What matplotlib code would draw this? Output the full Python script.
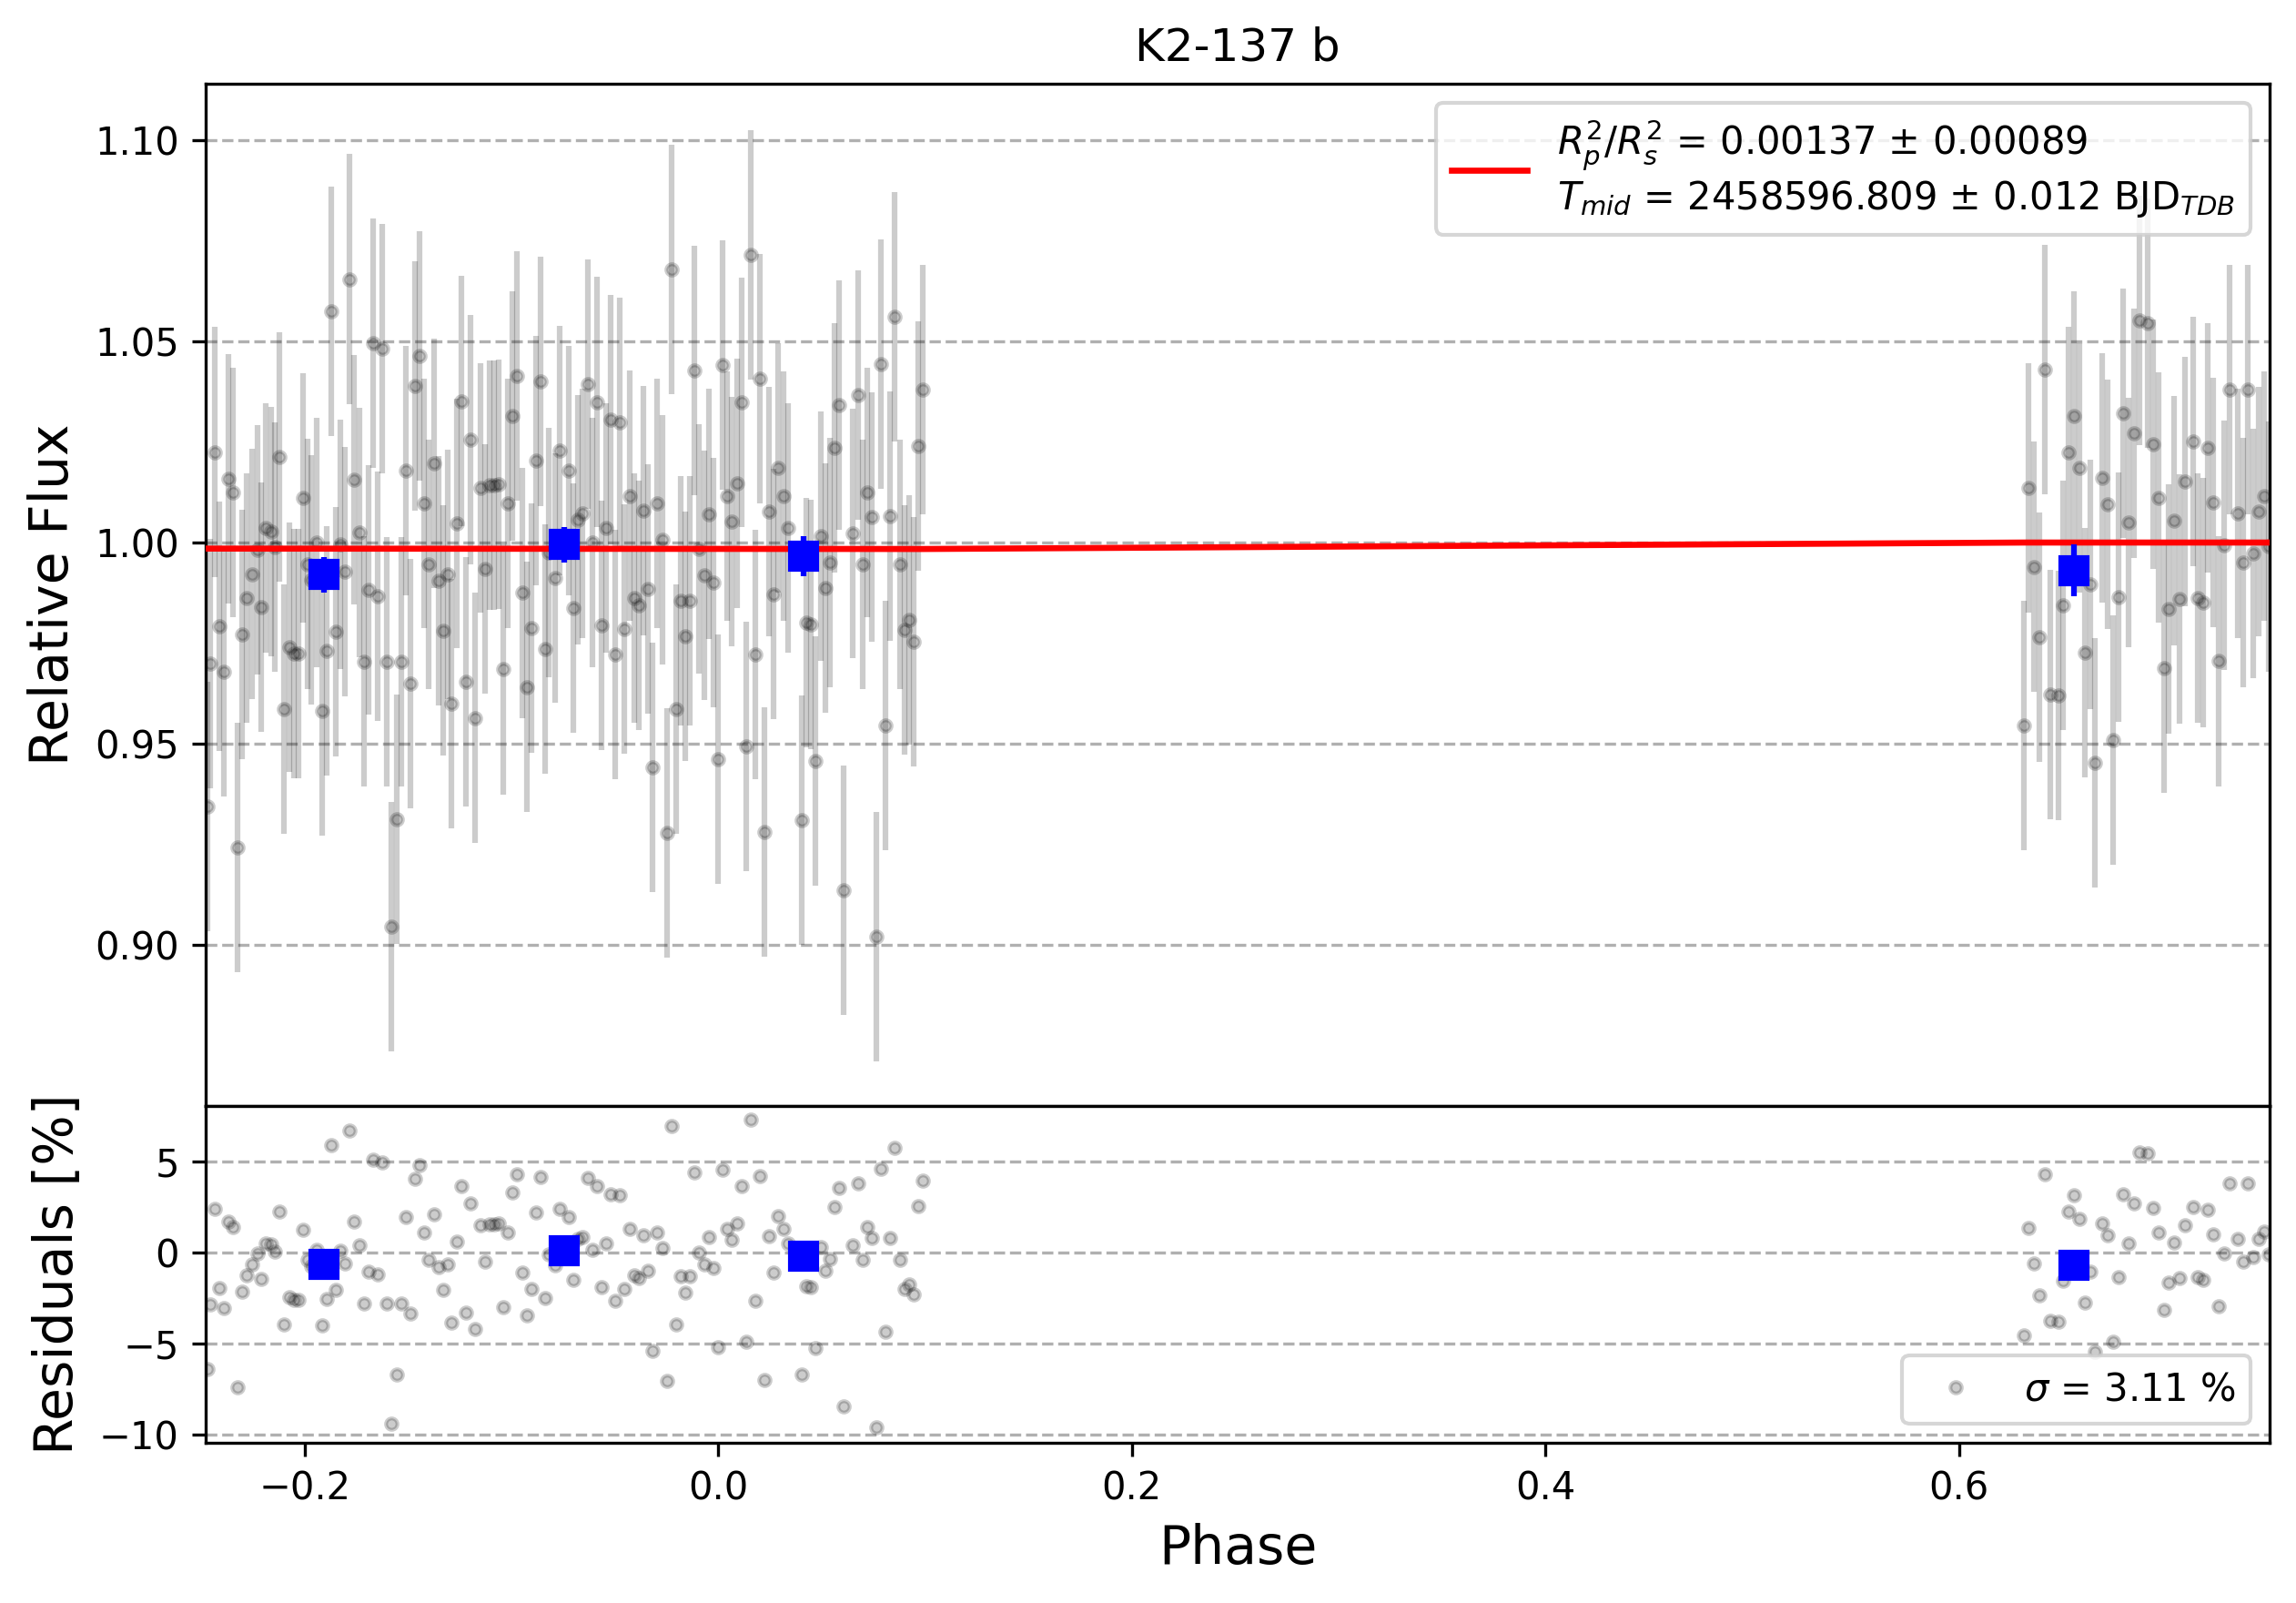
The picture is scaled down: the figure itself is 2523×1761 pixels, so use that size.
import numpy as np
import matplotlib
matplotlib.use("Agg")
import matplotlib.pyplot as plt

# ---------------- data ----------------
phase = [
    -0.2471, -0.2456, -0.2434, -0.2412, -0.2390, -0.2368, -0.2346, -0.2324, -0.2302, -0.2279,
    -0.2254, -0.2229, -0.2210, -0.2188, -0.2163, -0.2143, -0.2122, -0.2100, -0.2075, -0.2049,
    -0.2028, -0.2009, -0.1987, -0.1969, -0.1940, -0.1914, -0.1893, -0.1870, -0.1849, -0.1826,
    -0.1805, -0.1782, -0.1762, -0.1735, -0.1713, -0.1691, -0.1669, -0.1647, -0.1623, -0.1603,
    -0.1579, -0.1556, -0.1532, -0.1510, -0.1488, -0.1466, -0.1443, -0.1422, -0.1400, -0.1375,
    -0.1353, -0.1330, -0.1309, -0.1290,
    -0.1262, -0.1240, -0.1220, -0.1196, -0.1176, -0.1151, -0.1126, -0.1104, -0.1082, -0.1060,
    -0.1038, -0.1016, -0.0994, -0.0972, -0.0947, -0.0925, -0.0902, -0.0881, -0.0858, -0.0836,
    -0.0821, -0.0789, -0.0767, -0.0723, -0.0701, -0.0677, -0.0655, -0.0630, -0.0608, -0.0586,
    -0.0564, -0.0542, -0.0520, -0.0498, -0.0476, -0.0454, -0.0429, -0.0407, -0.0385, -0.0362,
    -0.0340, -0.0318, -0.0294, -0.0271, -0.0246, -0.0224, -0.0202, -0.0180, -0.0158, -0.0138,
    -0.0114, -0.0092, -0.0067, -0.0045, -0.0021, 0.0000, 0.0022, 0.0044, 0.0066, 0.0093,
    0.0115, 0.0137, 0.0158, 0.0181, 0.0203, 0.0225, 0.0247, 0.0269, 0.0291, 0.0316,
    0.0338, 0.0404, 0.0426, 0.0448, 0.0470, 0.0496, 0.0518, 0.0540, 0.0564, 0.0586,
    0.0606, 0.0650, 0.0678, 0.0700, 0.0722, 0.0744, 0.0766, 0.0788, 0.0810, 0.0832,
    0.0854, 0.0881, 0.0903, 0.0925, 0.0947, 0.0969, 0.0991,
    0.6315, 0.6337, 0.6362, 0.6389, 0.6416, 0.6440, 0.6481, 0.6503, 0.6528, 0.6557,
    0.6582, 0.6609, 0.6634, 0.6657, 0.6692, 0.6720, 0.6746, 0.6771, 0.6795, 0.6820,
    0.6847, 0.6873, 0.6914, 0.6939, 0.6967, 0.6993, 0.7013, 0.7041, 0.7068, 0.7093,
    0.7131, 0.7154, 0.7181, 0.7204, 0.7229, 0.7257, 0.7282, 0.7308, 0.7348, 0.7376,
    0.7396, 0.7423, 0.7449, 0.7474, 0.7496,
]

residual_pct = [
    -6.40, -2.85, 2.40, -1.93, -3.07, 1.73, 1.40, -7.43, -2.13, -1.23,
    -0.63, -0.03, -1.45, 0.52, 0.43, 0.03, 2.27, -3.98, -2.45, -2.60,
    -2.60, 1.27, -0.38, -0.77, 0.15, -4.03, -2.53, 5.90, -2.07, 0.10,
    -0.58, 6.70, 1.72, 0.40, -2.80, -1.03, 5.10, -1.18, 4.97, -2.80,
    -9.40, -6.73, -2.80, 1.95, -3.35, 4.05, 4.80, 1.12, -0.38, 2.12,
    -0.80, -2.03, -0.63, -3.85,
    0.62, 3.67, -3.30, 2.72, -4.20, 1.52, -0.50, 1.57, 1.57, 1.60,
    -3.00, 1.12, 3.30, 4.30, -1.10, -3.43, -1.98, 2.20, 4.15, -2.50,
    -0.10, -0.72, 2.43, 1.95, -1.48, 0.73, 0.87, 4.10, 0.15, 3.65,
    -1.90, 0.52, 3.20, -2.63, 3.15, -2.00, 1.32, -1.23, -1.40, 0.95,
    -1.00, -5.43, 1.12, 0.23, -7.05, 6.95, -3.98, -1.30, -2.18, -1.30,
    4.43, 0.00, -0.65, 0.87, -0.83, -5.22, 4.57, 1.32, 0.68, 1.62,
    3.65, -4.90, 7.30, -2.63, 4.22, -7.03, 0.92, -1.12, 2.02, 1.32,
    0.52, -6.73, -1.83, -1.88, -5.27, 0.32, -0.98, -0.33, 2.52, 3.57,
    -8.48, 0.38, 3.82, -0.38, 1.40, 0.80, -9.63, 4.60, -4.38, 0.82,
    5.77, -0.38, -2.02, -1.77, -2.30, 2.55, 3.97,
    -4.55, 1.35, -0.60, -2.35, 4.30, -3.77, -3.80, -1.57, 2.25, 3.15,
    1.85, -2.73, -1.03, -5.47, 1.60, 0.95, -4.90, -1.35, 3.22, 0.50,
    2.72, 5.52, 5.45, 2.45, 1.12, -3.13, -1.65, 0.55, -1.40, 1.52,
    2.52, -1.37, -1.50, 2.35, 1.00, -2.95, -0.07, 3.80, 0.73, -0.50,
    3.80, -0.27, 0.77, 1.15, -0.10,
]

flux_err = 0.031  # uncertainty of each point (relative flux)

# transit model curve (red line)
model_phase = [-0.2478, 0.0991, 0.6315, 0.7502]
model_flux = [0.9985, 0.9984, 1.0000, 1.0000]

# binned points
bin_phase = [-0.1905, -0.0743, 0.0414, 0.6557]
bin_resid_pct = [-0.65, 0.10, -0.18, -0.69]
bin_err = [0.0044, 0.0045, 0.0049, 0.0064]

legend_fit = ("$R_{p}^{2}/R_{s}^{2}$ = 0.00137 ± 0.00089\n"
              "$T_{mid}$ = 2458596.809 ± 0.012 BJD$_{TDB}$")
legend_sigma = r"$\sigma$ = 3.11 %"
title = "K2-137 b"

# ---------------- derived ----------------
phase = np.array(phase)
resid = np.array(residual_pct)
model_at = np.interp(phase, model_phase, model_flux)
flux = model_at + resid / 100.0
bphase = np.array(bin_phase)
bflux = np.interp(bphase, model_phase, model_flux) + np.array(bin_resid_pct) / 100.0

# ---------------- figure ----------------
W, H = 2523, 1761
fig = plt.figure(figsize=(W / 300, H / 300), dpi=300)
L, R = 226 / W, 2494 / W
ax1 = fig.add_axes([L, 1 - 1215 / H, R - L, (1215 - 92) / H])
ax2 = fig.add_axes([L, 1 - 1585 / H, R - L, (1585 - 1215) / H], sharex=ax1)

ax1.errorbar(phase, flux, yerr=flux_err, fmt='o', color='black', alpha=0.2,
             ms=3, mew=1, elinewidth=1.5, zorder=2)
ax1.plot(model_phase, model_flux, color='red', lw=1.6, zorder=4,
         label=legend_fit)
ax1.errorbar(bphase, bflux, yerr=bin_err, fmt='s', color='blue', ms=7,
             elinewidth=1.5, zorder=5)
ax1.set_ylim(0.860, 1.114)
ax1.set_ylabel("Relative Flux", fontsize=14)
ax1.set_title(title, fontsize=12)
ax1.grid(True, axis='y', ls='--', color='#b0b0b0', lw=0.8)
ax1.legend(loc='upper right', fontsize=10)
ax1.tick_params(labelbottom=False)

ax2.plot(phase, resid, 'o', color='black', alpha=0.2, ms=3, mew=1,
         label=legend_sigma)
ax2.errorbar(bphase, bin_resid_pct, yerr=np.array(bin_err) * 100, fmt='s',
             color='blue', ms=7, elinewidth=1.5, zorder=5)
ax2.set_ylim(-10.47, 8.07)
ax2.set_yticks([-10, -5, 0, 5])
ax2.set_xlim(-0.2478, 0.7502)
ax2.set_ylabel("Residuals [%]", fontsize=14)
ax2.set_xlabel("Phase", fontsize=14)
ax2.grid(True, axis='y', ls='--', color='#b0b0b0', lw=0.8)
ax2.legend(loc='lower right', fontsize=10)

fig.align_ylabels([ax1, ax2])
fig.savefig("out.png", dpi=300)
